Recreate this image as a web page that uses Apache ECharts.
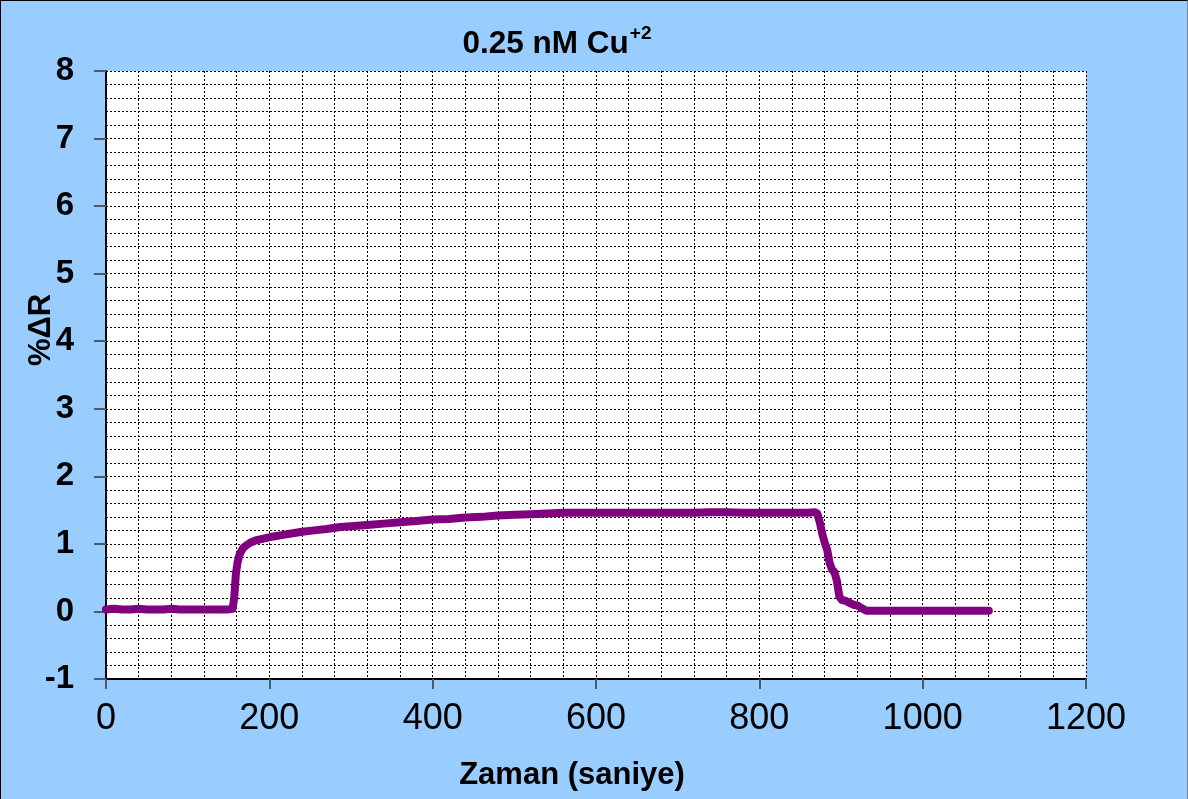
<!DOCTYPE html>
<html>
<head>
<meta charset="utf-8">
<script src="https://cdn.jsdelivr.net/npm/echarts@6/dist/echarts.min.js"></script>
<style>
html,body{margin:0;padding:0;background:#99CCFF;}
#c{width:1188px;height:799px;box-sizing:border-box;border-top:1px solid #000;border-left:1px solid #000;border-right:1px solid #888;}
</style>
</head>
<body>
<div id="c"></div>
<script>
var times = [0,10,20,30,40,50,60,70,80,90,100,110,120,130,140,150,155,157,159,161,163,165,168,172,177,183,190,197,205,215,225,240,255,270,287,300,320,340,360,380,400,420,440,460,480,500,520,540,560,580,600,620,640,660,680,700,720,740,760,780,800,820,840,860,868,871,874,877,880,883,886,889,892,895,898,901,905,910,915,920,925,931,950,1000,1050,1081];
var values = [0.03,0.04,0.03,0.03,0.04,0.03,0.03,0.03,0.04,0.03,0.03,0.03,0.03,0.03,0.03,0.03,0.04,0.2,0.55,0.72,0.82,0.88,0.94,0.98,1.02,1.05,1.07,1.09,1.11,1.13,1.15,1.18,1.20,1.22,1.25,1.26,1.28,1.30,1.32,1.34,1.36,1.37,1.39,1.40,1.42,1.43,1.44,1.45,1.46,1.46,1.46,1.46,1.46,1.46,1.46,1.46,1.46,1.47,1.47,1.46,1.46,1.46,1.46,1.46,1.47,1.45,1.32,1.15,1.02,0.92,0.72,0.62,0.58,0.45,0.22,0.17,0.16,0.13,0.10,0.09,0.05,0.01,0.01,0.01,0.01,0.01];
var xTicks = [0,200,400,600,800,1000,1200];
var yTicks = [-1,0,1,2,3,4,5,6,7,8];

var chart = echarts.init(document.getElementById('c'));
var data = times.map(function(t,i){return [t, values[i]];});
var gridLine = {show:true, lineStyle:{color:'#000', type:[2,2], width:1}};
var FF = 'Liberation Sans, Arial';
chart.setOption({
  backgroundColor:'#99CCFF',
  animation:false,
  title:{
    text:'{a|0.25 nM Cu}{b|+2}',
    left:551, top:18, textAlign:'center',
    textStyle:{rich:{
      a:{fontFamily:FF, fontWeight:'bold', fontSize:31.5, color:'#000', verticalAlign:'bottom', lineHeight:36},
      b:{fontFamily:FF, fontWeight:'bold', fontSize:19, color:'#000', verticalAlign:'top', lineHeight:36, padding:[0,0,8,1]}
    }}
  },
  grid:{left:105, right:101, top:70, bottom:120, show:true, backgroundColor:'#fff', borderWidth:0, containLabel:false, outerBoundsMode:'none'},
  xAxis:{
    type:'value', min:xTicks[0], max:xTicks[xTicks.length-1], interval:200,
    axisLine:{show:true, onZero:false, lineStyle:{color:'#000', width:2}},
    axisTick:{show:true, inside:false, length:10, lineStyle:{color:'#4a5a6a', width:2}},
    minorTick:{show:false, splitNumber:5},
    splitLine:gridLine,
    minorSplitLine:gridLine,
    axisLabel:{fontFamily:FF, fontSize:36, color:'#000', margin:22, formatter:function(v){return String(v);}},
    name:'Zaman (saniye)', nameLocation:'middle', nameGap:81, nameMoveOverlap:false,
    nameTextStyle:{fontFamily:FF, fontWeight:'bold', fontSize:31, color:'#000', padding:[0,48,0,0]}
  },
  yAxis:{
    type:'value', min:yTicks[0], max:yTicks[yTicks.length-1], interval:1,
    axisLine:{show:true, onZero:false, lineStyle:{color:'#000', width:2}},
    axisTick:{show:true, inside:false, length:12, lineStyle:{color:'#4a5a6a', width:2}},
    minorTick:{show:false, splitNumber:5},
    splitLine:gridLine,
    minorSplitLine:gridLine,
    axisLabel:{fontFamily:FF, fontWeight:'bold', fontSize:33, color:'#000', margin:32},
    name:'%ΔR', nameLocation:'middle', nameGap:49, nameRotate:90, nameMoveOverlap:false,
    nameTextStyle:{fontFamily:FF, fontWeight:'bold', fontSize:31, color:'#000', padding:[0,0,0,90]}
  },
  series:[{
    type:'line', data:data, showSymbol:false, symbol:'none',
    lineStyle:{color:'#800080', width:8, cap:'round', join:'round'},
    z:5
  }]
});
</script>
</body>
</html>
